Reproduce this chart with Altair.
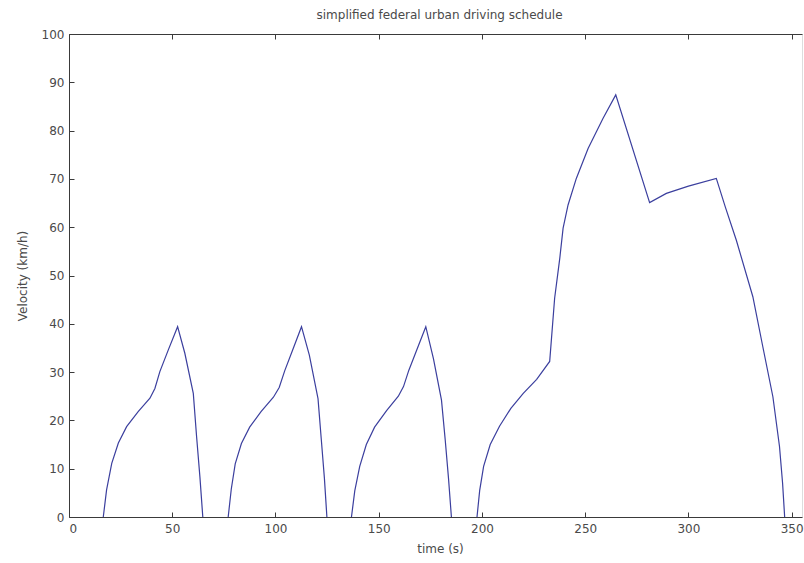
import altair as alt
import pandas as pd

# cycle 1
c1_t = [16.6, 18.2, 20.7, 23.9, 27.9, 33.5, 39.2, 41.6, 44.0, 48.1, 52.6, 56.1, 60.2, 61.8, 63.4, 64.8]
c1_v = [0.0, 5.6, 11.1, 15.3, 18.7, 21.8, 24.6, 26.6, 30.1, 34.6, 39.4, 33.9, 25.6, 16.6, 8.3, 0.0]
# cycle 2
c2_t = [77.1, 78.6, 80.5, 83.5, 87.5, 93.0, 99.0, 101.8, 104.5, 108.5, 112.6, 116.4, 120.6, 122.2, 123.7, 124.9]
c2_v = [0.0, 5.8, 11.0, 15.2, 18.6, 21.8, 24.8, 26.8, 30.3, 34.8, 39.4, 33.5, 24.5, 16.0, 8.0, 0.0]
# cycle 3
c3_t = [136.8, 138.4, 140.8, 144.0, 148.0, 153.8, 159.5, 162.0, 164.6, 168.6, 172.8, 176.5, 180.4, 182.2, 183.8, 185.2]
c3_v = [0.0, 5.4, 10.5, 15.0, 18.6, 22.0, 25.0, 27.0, 30.4, 34.8, 39.4, 32.8, 24.2, 16.0, 8.0, 0.0]
# cycle 4
c4_t = [197.6, 198.9, 200.8, 204.0, 208.5, 214.0, 220.0, 226.5, 232.8, 235.2, 237.7, 239.3, 241.7,
        245.7, 251.4, 258.6, 264.8, 281.2, 289.3, 300.0, 313.5, 318.0, 323.2, 331.2, 336.0,
        340.9, 344.1, 345.6, 346.6]
c4_v = [0.0, 5.5, 10.5, 15.0, 18.8, 22.5, 25.6, 28.5, 32.2, 45.3, 53.6, 59.8, 64.6,
        70.1, 76.3, 82.5, 87.4, 65.1, 67.0, 68.5, 70.1, 64.0, 57.3, 45.6, 35.3,
        24.9, 14.6, 7.0, 0.0]

x_ticks = [0, 50, 100, 150, 200, 250, 300, 350]
y_ticks = [0, 10, 20, 30, 40, 50, 60, 70, 80, 90, 100]

rows = []
for name, ts, vs in [("c1", c1_t, c1_v), ("c2", c2_t, c2_v), ("c3", c3_t, c3_v), ("c4", c4_t, c4_v)]:
    for t, v in zip(ts, vs):
        rows.append({"t": t, "v": v, "cycle": name})
df = pd.DataFrame(rows)

FONT = "DejaVu Sans"
AX = "#3a3a3a"
TXT = "#4a4a4a"

xs = alt.Scale(domain=[0, 355], nice=False, zero=False)
ys = alt.Scale(domain=[0, 100], nice=False)

base = alt.Chart(df)

line = base.mark_line(color="#3b3f9e", strokeWidth=1.2).encode(
    x=alt.X("t:Q", scale=xs, axis=alt.Axis(
        orient="bottom", values=x_ticks, ticks=False, domain=True, domainColor=AX,
        grid=False, labelFont=FONT, labelFontSize=12, labelColor=TXT, labelPadding=6,
        title="time (s)", titleFont=FONT, titleFontSize=12, titleFontWeight="normal",
        titleColor=TXT, titleX=371, titlePadding=9)),
    y=alt.Y("v:Q", scale=ys, axis=alt.Axis(
        orient="left", values=y_ticks, ticks=False, domain=True, domainColor=AX,
        grid=False, labelFont=FONT, labelFontSize=12, labelColor=TXT, labelPadding=5,
        title="Velocity (km/h)", titleFont=FONT, titleFontSize=12, titleFontWeight="normal",
        titleColor=TXT, titlePadding=12)),
    detail="cycle:N",
)

ticks_bl = base.mark_line(strokeOpacity=0).encode(
    x=alt.X("t:Q", scale=xs, axis=alt.Axis(
        orient="bottom", offset=-5, values=x_ticks, ticks=True, tickSize=5, tickColor=AX,
        domain=False, labels=False, grid=False, title=None)),
    y=alt.Y("v:Q", scale=ys, axis=alt.Axis(
        orient="left", offset=-5, values=y_ticks, ticks=True, tickSize=5, tickColor=AX,
        domain=False, labels=False, grid=False, title=None)),
    detail="cycle:N",
)

top_dom = base.mark_line(strokeOpacity=0).encode(
    x=alt.X("t:Q", scale=xs, axis=alt.Axis(
        orient="top", values=x_ticks, ticks=False, domain=True, domainColor=AX,
        labels=False, grid=False, title=None)),
    y=alt.Y("v:Q", scale=ys, axis=None),
    detail="cycle:N",
)

top_ticks = base.mark_line(strokeOpacity=0).encode(
    x=alt.X("t:Q", scale=xs, axis=alt.Axis(
        orient="top", offset=-5, values=x_ticks, ticks=True, tickSize=5, tickColor=AX,
        domain=False, labels=False, grid=False, title=None)),
    y=alt.Y("v:Q", scale=ys, axis=None),
    detail="cycle:N",
)

chart = alt.layer(line, ticks_bl, top_dom, top_ticks).resolve_axis(
    x="independent", y="independent"
).properties(
    width=733, height=483,
    title=alt.TitleParams("simplified federal urban driving schedule", font=FONT, fontSize=12,
                          fontWeight="normal", color=TXT, anchor="middle", dx=4, offset=6),
    autosize=alt.AutoSizeParams(type="none"),
    padding={"left": 69, "top": 34, "right": 2, "bottom": 46},
).configure_view(strokeOpacity=0, strokeWidth=0).configure(background="white")

chart.save("out.html", embed_options={"renderer": "svg", "actions": False})
